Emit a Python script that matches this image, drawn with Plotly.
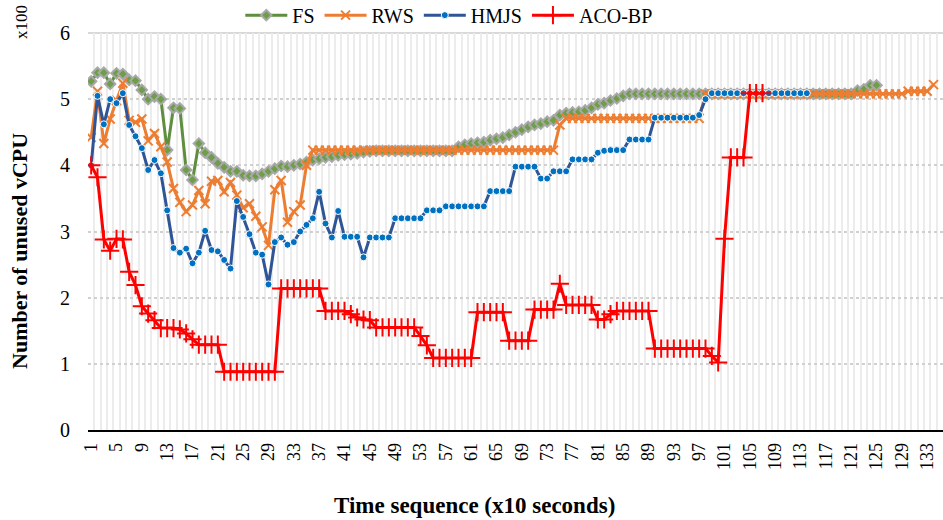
import plotly.graph_objects as go

# ---------------- data ----------------
fs = [5.27, 5.40, 5.40, 5.23, 5.39, 5.38, 5.29, 5.28, 5.14, 5.00,
      5.04, 5.00, 4.23, 4.87, 4.86, 3.93, 3.78, 4.33, 4.19, 4.12,
      4.03, 3.97, 3.91, 3.91, 3.85, 3.84, 3.84, 3.87, 3.91, 3.95,
      3.99, 3.98, 4.00, 4.02, 4.05, 4.08, 4.10, 4.12, 4.13, 4.15,
      4.16, 4.17, 4.18, 4.20, 4.21] + [4.22] * 13 + \
     [4.28, 4.31, 4.33, 4.34, 4.35, 4.38, 4.40, 4.42, 4.46, 4.50,
      4.54, 4.58, 4.61, 4.63, 4.66, 4.68, 4.76, 4.79, 4.80, 4.81,
      4.83, 4.87, 4.92, 4.94, 4.98, 5.01, 5.05] + [5.08] * 36 + \
     [5.13, 5.15, 5.21, 5.21]

rws = [4.42, 5.12, 4.33, 4.70, 4.98, 5.24, 4.68, 4.65, 4.70, 4.37,
       4.48, 4.28, 4.05, 3.65, 3.44, 3.30, 3.40, 3.62, 3.42, 3.76,
       3.77, 3.60, 3.74, 3.55, 3.36, 3.42, 3.23, 3.07, 2.79, 3.63,
       3.77, 3.14, 3.30, 3.40, 4.00] + [4.23] * 39 + [4.61] + \
      [4.71] * 22 + [5.08] * 32 + [5.12] * 4 + [5.22]

hmjs = [4.00, 5.05, 4.62, 5.00, 4.94, 5.09, 4.61, 4.44, 4.26, 3.93,
        4.08, 3.88, 3.32, 2.75, 2.68, 2.74, 2.52, 2.68, 3.01, 2.72,
        2.70, 2.57, 2.44, 3.46, 3.22, 2.96, 2.68, 2.65, 2.20, 2.84,
        2.91, 2.80, 2.84, 3.00, 3.10, 3.20, 3.60, 3.12, 2.91, 3.31,
        2.92, 2.92, 2.92, 2.61] + [2.91] * 4 + [3.20] * 5 + [3.32] * 3 + \
       [3.38] * 7 + [3.61] * 4 + [3.98] * 4 + [3.80] * 2 + [3.91] * 3 + \
       [4.09] * 4 + [4.19, 4.22, 4.23, 4.23, 4.23] + [4.39] * 4 + \
       [4.72] * 7 + [4.76, 5.00] + [5.09] * 16

aco = [4.00, 3.82, 2.88, 2.71, 2.89, 2.88, 2.39, 2.19, 1.87, 1.76,
       1.66, 1.54, 1.54, 1.54, 1.52, 1.46, 1.37] + [1.29] * 4 + \
      [0.88] * 9 + [2.14] * 7 + [1.80] * 4 + [1.75, 1.70, 1.67, 1.66] + \
      [1.55] * 7 + [1.42, 1.28] + [1.09] * 7 + [1.78] * 5 + [1.35] * 4 + \
      [1.82] * 4 + [2.21] + [1.89] * 5 + [1.67, 1.67, 1.75] + [1.80] * 6 + \
      [1.23] * 9 + [1.12, 1.02, 2.89] + [4.12] * 3 + [5.09] * 3

n_cat = 135
tick_vals = list(range(1, n_cat + 1, 4))
tick_text = [str(v) for v in tick_vals]
y_ticks = [0, 1, 2, 3, 4, 5, 6]

series_names = ["FS", "RWS", "HMJS", "ACO-BP"]

FONT = "Liberation Serif, Times New Roman, serif"

fig = go.Figure()


def xs(vals):
    return list(range(1, len(vals) + 1))


fig.add_trace(go.Scatter(
    x=xs(fs), y=fs, name=series_names[0], mode="lines+markers",
    line=dict(color="#5E8E3E", width=3),
    marker=dict(symbol="diamond", size=8, color="#6E9E48",
                line=dict(color="#A8A8A8", width=2))))
fig.add_trace(go.Scatter(
    x=xs(rws), y=rws, name=series_names[1], mode="lines+markers",
    line=dict(color="#ED7D31", width=3),
    marker=dict(symbol="x-thin", size=9, color="#ED7D31",
                line=dict(color="#ED7D31", width=2))))
fig.add_trace(go.Scatter(
    x=xs(hmjs), y=hmjs, name=series_names[2], mode="lines+markers",
    line=dict(color="#2F5597", width=3),
    marker=dict(symbol="circle", size=7, color="#0070C0",
                line=dict(color="white", width=1))))
fig.add_trace(go.Scatter(
    x=xs(aco), y=aco, name=series_names[3], mode="lines+markers",
    line=dict(color="#FF0000", width=3),
    marker=dict(symbol="cross-thin", size=13, color="#FF0000",
                line=dict(color="#FF0000", width=2))))

fig.update_layout(
    width=943, height=520,
    margin=dict(l=88, r=0, t=33, b=90, autoexpand=False),
    paper_bgcolor="white", plot_bgcolor="white",
    font=dict(family=FONT, color="black"),
    showlegend=True,
    legend=dict(orientation="h", x=0.422, xanchor="center",
                y=1.045, yanchor="middle",
                font=dict(family=FONT, size=20, color="black"),
                itemwidth=42, bgcolor="rgba(0,0,0,0)"),
    xaxis=dict(range=[0.5, n_cat + 0.5], tickmode="array",
               tickvals=tick_vals, ticktext=tick_text, tickangle=-90,
               tickfont=dict(family=FONT, size=18, color="black"),
               showgrid=False, zeroline=False, automargin=False,
               showline=True, linecolor="black", linewidth=1.5,
               ticks="", ticklabelstandoff=4,
               minor=dict(tick0=0.5, dtick=1, showgrid=True,
                          gridcolor="#ececec", gridwidth=2)),
    yaxis=dict(range=[0, 6], tickvals=y_ticks, automargin=False,
               tickfont=dict(family=FONT, size=20, color="black"),
               showgrid=True, gridcolor="#d0d0d0", gridwidth=1.5,
               griddash="dot", zeroline=False, showline=False,
               ticks="", ticklabelstandoff=17),
    annotations=[
        dict(text="<b>Number of unused vCPU</b>", textangle=-90,
             xref="paper", yref="paper", x=-0.0795, y=0.451,
             xanchor="center", yanchor="middle",
             showarrow=False, font=dict(family=FONT, size=22)),
        dict(text="<b>Time sequence (x10 seconds)</b>",
             xref="paper", yref="paper", x=0.4526, y=-0.189,
             xanchor="center", yanchor="middle",
             showarrow=False, font=dict(family=FONT, size=23)),
        dict(text="x100", textangle=-90,
             xref="paper", yref="paper", x=-0.077, y=1.028,
             xanchor="center", yanchor="middle",
             showarrow=False, font=dict(family=FONT, size=17)),
    ],
    shapes=[
        dict(type="line", xref="paper", yref="paper", x0=0, x1=1,
             y0=1, y1=1, line=dict(color="#d9d9d9", width=2), layer="below"),
    ],
)

fig.write_html(
    "out.html",
    config={"displayModeBar": False},
    post_script="document.body.style.margin='0';document.body.style.overflow='hidden';",
)
